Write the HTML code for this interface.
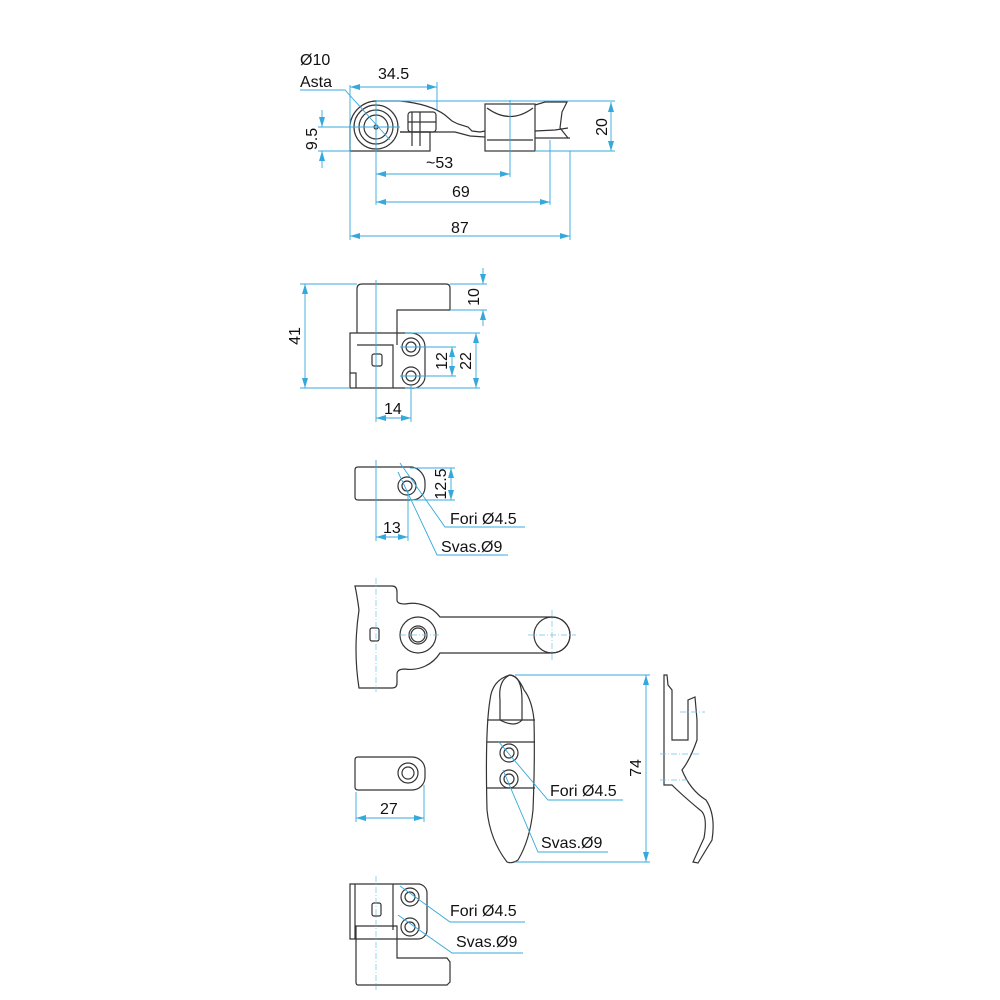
<!DOCTYPE html>
<html><head><meta charset="utf-8"><style>
html,body{margin:0;padding:0;background:#fff}
svg{display:block}
text{font-family:"Liberation Sans",sans-serif;font-size:16px;fill:#111}
.p{fill:none;stroke:#333;stroke-width:1.2}
.d{fill:none;stroke:#35a9dc;stroke-width:0.9}
.c{fill:none;stroke:#6cc3ea;stroke-width:0.7;stroke-dasharray:6 2 1 2}
</style></head><body>
<svg width="1000" height="1000" viewBox="0 0 1000 1000" xmlns="http://www.w3.org/2000/svg">
<defs><marker id="a" markerWidth="10" markerHeight="6" refX="10" refY="3" orient="auto-start-reverse" markerUnits="userSpaceOnUse"><path d="M0,0 L10,3 L0,6z" fill="#35a9dc"/></marker></defs>

<!-- TOP VIEW -->
<g class="p">
<path d="M350,151 L350,125 A27,27 0 0 1 376,101 L400,101 Q430,104 445,115 L452,121 L458,124 L468,127 L472,131 L480,132 L485,131"/>
<path d="M400,132 L455,132 L470,136 L485,137"/>
<path d="M535,131 L555,130 L568,128 M535,138 L570,138"/>
<circle cx="376" cy="127" r="22"/><circle cx="376" cy="127" r="17"/><circle cx="376" cy="127" r="12"/><circle cx="376" cy="127" r="2"/>
<path d="M350,151 L430,151 L430,132 L400,132"/>
<rect x="408" y="112" width="28" height="20" rx="3"/>
<path d="M412,112 L412,146 M420,112 L420,146 M408,122 L436,122"/>
<rect x="485" y="104" width="50" height="47"/>
<path d="M487,108 Q510,125 533,108 M487,140 L533,140"/>
<path d="M535,105 L545,102 L567,102 L562,112 L560,128 L568,138"/>
</g>
<g class="d">
<path d="M300,90 L345,90 L390,140"/>
<line x1="350" y1="87" x2="437" y2="87" marker-start="url(#a)" marker-end="url(#a)"/>
<line x1="350" y1="85" x2="350" y2="240"/><line x1="437" y1="82" x2="437" y2="110"/>
<line x1="611" y1="102" x2="611" y2="151" marker-start="url(#a)" marker-end="url(#a)"/>
<line x1="376" y1="101" x2="615" y2="101"/><line x1="535" y1="151" x2="615" y2="151"/>
<line x1="322" y1="110" x2="322" y2="127" marker-end="url(#a)"/><line x1="322" y1="168" x2="322" y2="151" marker-end="url(#a)"/>
<line x1="318" y1="127" x2="400" y2="127"/><line x1="318" y1="151" x2="350" y2="151"/>
<line x1="376" y1="100" x2="376" y2="205"/>
<line x1="376" y1="174" x2="510" y2="174" marker-start="url(#a)" marker-end="url(#a)"/>
<line x1="510" y1="100" x2="510" y2="177"/>
<line x1="376" y1="202" x2="550" y2="202" marker-start="url(#a)" marker-end="url(#a)"/>
<line x1="550" y1="140" x2="550" y2="205"/>
<line x1="350" y1="236" x2="570" y2="236" marker-start="url(#a)" marker-end="url(#a)"/>
<line x1="570" y1="151" x2="570" y2="240"/>
</g>
<text x="300" y="65">Ø10</text><text x="300" y="87">Asta</text>
<text x="378" y="79">34.5</text>
<text x="426" y="168">~53</text><text x="452" y="197">69</text><text x="451" y="233">87</text>
<text transform="translate(607,127) rotate(-90)" text-anchor="middle">20</text>
<text transform="translate(317,139) rotate(-90)" text-anchor="middle">9.5</text>

<!-- VIEW 2 -->
<g class="p">
<path d="M357,333 L357,289 Q357,284 362,284 L446,284 Q450,284 450,288 L450,310 L397,310 L397,345"/>
<path d="M350,333 L411,333 A14,14 0 0 1 425,347 L425,376 A12,12 0 0 1 411,388 L350,388 Z"/>
<path d="M357,345 L393,345 L393,388 M350,373 L356,373 L356,388"/>
<circle cx="411" cy="347" r="9"/><circle cx="411" cy="347" r="5"/>
<circle cx="411" cy="376" r="9"/><circle cx="411" cy="376" r="5"/>
<rect x="372" y="354" width="10" height="12" rx="2"/>
</g>
<g class="d">
<line x1="305" y1="284" x2="305" y2="388" marker-start="url(#a)" marker-end="url(#a)"/>
<line x1="300" y1="284" x2="357" y2="284"/><line x1="300" y1="388" x2="350" y2="388"/>
<line x1="483" y1="268" x2="483" y2="284" marker-end="url(#a)"/><line x1="483" y1="326" x2="483" y2="310" marker-end="url(#a)"/>
<line x1="450" y1="284" x2="487" y2="284"/><line x1="450" y1="310" x2="487" y2="310"/>
<line x1="452" y1="347" x2="452" y2="376" marker-start="url(#a)" marker-end="url(#a)"/>
<line x1="400" y1="347" x2="456" y2="347"/><line x1="400" y1="376" x2="456" y2="376"/>
<line x1="476" y1="333" x2="476" y2="388" marker-start="url(#a)" marker-end="url(#a)"/>
<line x1="405" y1="333" x2="480" y2="333"/><line x1="405" y1="388" x2="480" y2="388"/>
<line x1="376" y1="418" x2="411" y2="418" marker-start="url(#a)" marker-end="url(#a)"/>
<line x1="376" y1="280" x2="376" y2="422"/><line x1="411" y1="385" x2="411" y2="422"/>
</g>
<text transform="translate(300,336) rotate(-90)" text-anchor="middle">41</text>
<text transform="translate(479,297) rotate(-90)" text-anchor="middle">10</text>
<text transform="translate(447,361) rotate(-90)" text-anchor="middle">12</text>
<text transform="translate(471,361) rotate(-90)" text-anchor="middle">22</text>
<text x="384" y="414">14</text>

<!-- VIEW 3 -->
<g class="p">
<path d="M358,467 L412,467 A16,16 0 0 1 425,483 L425,487 A13,13 0 0 1 412,500 L358,500 Q355,500 355,497 L355,470 Q355,467 358,467Z"/>
<circle cx="407" cy="486" r="9"/><circle cx="407" cy="486" r="5"/>
</g>
<g class="d">
<line x1="451" y1="468" x2="451" y2="500" marker-start="url(#a)" marker-end="url(#a)"/>
<line x1="410" y1="468" x2="455" y2="468"/><line x1="410" y1="500" x2="455" y2="500"/>
<line x1="376" y1="537" x2="408" y2="537" marker-start="url(#a)" marker-end="url(#a)"/>
<line x1="376" y1="460" x2="376" y2="541"/><line x1="408" y1="490" x2="408" y2="541"/>
<path d="M400,463 L445,527 L525,527"/><path d="M398,472 L437,555 L508,555"/>
</g>
<text transform="translate(446,484) rotate(-90)" text-anchor="middle">12.5</text>
<text x="383" y="533">13</text>
<text x="450" y="524">Fori Ø4.5</text><text x="441" y="552">Svas.Ø9</text>

<!-- VIEW 4 -->
<g class="p">
<path d="M355,586 L392,586 Q397,586 397,592 L397,600 Q397,604 405,604 A35,35 0 0 1 440,617 L552,617 A18,18 0 0 1 552,653 L440,653 A35,35 0 0 1 405,669 Q397,669 397,674 L397,683 Q397,688 392,688 L359,688 Q353,650 359,610 Q357,595 355,586Z"/>
<circle cx="418" cy="635" r="18"/><circle cx="418" cy="635" r="9"/><circle cx="418" cy="635" r="7"/>
<circle cx="552" cy="635" r="18"/>
<rect x="370" y="628" width="9" height="13" rx="2"/>
</g>
<g class="c"><line x1="376" y1="578" x2="376" y2="692"/><line x1="400" y1="635" x2="440" y2="635"/><line x1="552" y1="610" x2="552" y2="660"/><line x1="528" y1="635" x2="576" y2="635"/></g>

<!-- VIEW 5 -->
<g class="p">
<path d="M358,757 L412,757 A13,13 0 0 1 425,770 L425,777 A13,13 0 0 1 412,790 L358,790 Q355,790 355,787 L355,760 Q355,757 358,757Z"/>
<circle cx="408" cy="773" r="10"/><circle cx="408" cy="773" r="6"/>
</g>
<g class="d">
<line x1="356" y1="818" x2="424" y2="818" marker-start="url(#a)" marker-end="url(#a)"/>
<line x1="356" y1="792" x2="356" y2="822"/><line x1="424" y1="785" x2="424" y2="822"/>
</g>
<text x="380" y="814">27</text>

<!-- VIEW 6 -->
<g class="p">
<path d="M510,675 Q492,680 490,700 Q485,730 487,810 Q490,840 507,862 Q512,864 518,860 Q530,840 533,810 Q535,760 534,720 Q532,700 524,690 Q518,676 510,675Z"/>
<path d="M500,700 Q498,680 510,675 Q522,676 522,700 L522,720 Q515,728 500,720Z"/>
<path d="M487,720 L535,720 M487,742 L535,742 M487,788 L535,788"/>
<circle cx="509" cy="753" r="9"/><circle cx="509" cy="753" r="5"/>
<circle cx="509" cy="779" r="9"/><circle cx="509" cy="779" r="5"/>
</g>
<g class="d">
<line x1="646" y1="675" x2="646" y2="862" marker-start="url(#a)" marker-end="url(#a)"/>
<line x1="515" y1="675" x2="650" y2="675"/><line x1="515" y1="862" x2="650" y2="862"/>
<path d="M498,741 L548,800 L623,800"/><path d="M503,770 L538,852 L608,852"/>
</g>
<text transform="translate(641,768) rotate(-90)" text-anchor="middle">74</text>
<text x="550" y="796">Fori Ø4.5</text><text x="541" y="848">Svas.Ø9</text>

<!-- VIEW 7 profile -->
<g class="p">
<path d="M664,675 L667,675 L668,685 L672,690 L672,740 L688,740 L688,700 L695,697 L697,720 L697,740 Q690,760 682,770 Q690,790 706,800 Q716,815 712,840 L698,863 L693,862 L704,838 Q708,815 700,810 Q682,795 672,785 L664,785 Z"/>
</g>
<g class="c"><line x1="680" y1="712" x2="705" y2="712"/><line x1="660" y1="754" x2="700" y2="754"/><line x1="660" y1="780" x2="690" y2="780"/></g>

<!-- VIEW 8 -->
<g class="p">
<path d="M350,884 L418,884 A9,9 0 0 1 427,893 L427,930 A9,9 0 0 1 418,939 L350,939 Z"/>
<path d="M355,884 L355,939 M393,884 L393,930"/>
<path d="M356,926 L397,926 L397,958 L447,958 L450,962 L450,982 L447,985 L358,985 Q356,985 356,982 Z"/>
<circle cx="410" cy="897" r="9"/><circle cx="410" cy="897" r="5"/>
<circle cx="410" cy="927" r="9"/><circle cx="410" cy="927" r="5"/>
<rect x="372" y="903" width="9" height="13" rx="2"/>
</g>
<g class="c"><line x1="376" y1="876" x2="376" y2="990"/></g>
<g class="d"><path d="M400,886 L450,922 L525,922"/><path d="M398,915 L452,953 L523,953"/></g>
<text x="450" y="916">Fori Ø4.5</text><text x="456" y="947">Svas.Ø9</text>
</svg>
</body></html>
